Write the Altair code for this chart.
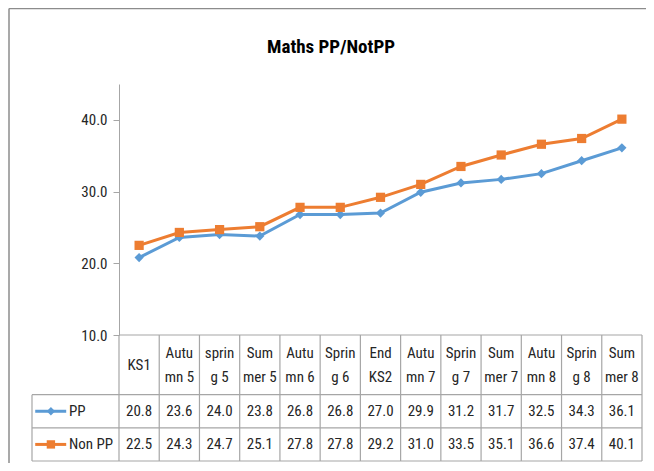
import altair as alt
import pandas as pd

# ---------------- data ----------------
title_text = "Maths PP/NotPP"
categories = ["KS1", "Autumn 5", "spring 5", "Summer 5", "Autumn 6", "Spring 6",
              "End KS2", "Autumn 7", "Spring 7", "Summer 7", "Autumn 8", "Spring 8", "Summer 8"]
header_labels = ["KS1", "Autu\nmn 5", "sprin\ng 5", "Sum\nmer 5", "Autu\nmn 6", "Sprin\ng 6",
                 "End\nKS2", "Autu\nmn 7", "Sprin\ng 7", "Sum\nmer 7", "Autu\nmn 8", "Sprin\ng 8", "Sum\nmer 8"]
pp_values = [20.8, 23.6, 24.0, 23.8, 26.8, 26.8, 27.0, 29.9, 31.2, 31.7, 32.5, 34.3, 36.1]
nonpp_values = [22.5, 24.3, 24.7, 25.1, 27.8, 27.8, 29.2, 31.0, 33.5, 35.1, 36.6, 37.4, 40.1]
series_names = ["PP", "Non PP"]
y_ticks = [10, 20, 30, 40]

# ---------------- layout / style ----------------
series_colors = ["#5B9BD5", "#ED7D31"]
series_shapes = ["diamond", "square"]
W, H = 610, 377           # plot area (table legend column + columns)
PLOT_H = 251              # height of the line part
LEG_COLS = 87 / 40.23     # width of legend column in column units
ROW_EDGES = [0, 1.8, 2.8, 3.8]
FONT = "Liberation Sans Narrow, Roboto Condensed, Open Sans, sans-serif"
GRID = "#A6A6A6"
TXT = "#262626"
LH = 24                   # header line height
n = len(categories)
col_px = W / (n + LEG_COLS)
unit_per_px = (ROW_EDGES[-1] - ROW_EDGES[0]) / (H - PLOT_H)

x_scale = alt.Scale(domain=[-LEG_COLS, n], nice=False, zero=False)
t_scale = alt.Scale(domain=[ROW_EDGES[0], ROW_EDGES[-1]], range=[PLOT_H, H], nice=False, zero=False)
color_scale = alt.Scale(domain=series_names, range=series_colors)
shape_scale = alt.Scale(domain=series_names, range=series_shapes)

# line data
rows = []
for name, vals in zip(series_names, [pp_values, nonpp_values]):
    for i, (c, v) in enumerate(zip(categories, vals)):
        rows.append(dict(series=name, category=c, idx=i, value=v))
line_df = pd.DataFrame(rows)

y_scale = alt.Scale(domain=[10, 45], range=[PLOT_H, 0], nice=False, zero=False)

base = alt.Chart(line_df).transform_calculate(xpos="datum.idx + 0.5")
lines = base.mark_line(strokeWidth=3).encode(
    x=alt.X("xpos:Q", scale=x_scale, axis=None),
    y=alt.Y("value:Q", scale=y_scale,
            axis=alt.Axis(values=y_ticks, format=".1f", title=None, grid=False,
                          offset=-LEG_COLS * col_px, domainColor=GRID, tickColor=GRID,
                          tickSize=6, labelFont=FONT, labelFontSize=15, labelColor=TXT,
                          labelPadding=6)),
    color=alt.Color("series:N", scale=color_scale, legend=None),
    detail="series:N",
)
points = base.mark_point(filled=True, size=85, opacity=1).encode(
    x=alt.X("xpos:Q", scale=x_scale, axis=None),
    y=alt.Y("value:Q", scale=y_scale, axis=None),
    color=alt.Color("series:N", scale=color_scale, legend=None),
    shape=alt.Shape("series:N", scale=shape_scale, legend=None),
)

# table cells
cells = []
for i, lab in enumerate(header_labels):
    cells.append(dict(idx=i, row=0, text=lab))
for r, vals in enumerate([pp_values, nonpp_values], start=1):
    for i, v in enumerate(vals):
        cells.append(dict(idx=i, row=r, text=f"{v:.1f}"))
cell_df = pd.DataFrame(cells)
cell_df["xc"] = cell_df["idx"] + 0.5
cell_df["yc"] = [
    (ROW_EDGES[r] + ROW_EDGES[r + 1]) / 2 - (t.count("\n")) * LH / 2 * unit_per_px
    for r, t in zip(cell_df["row"], cell_df["text"])
]

cell_text = alt.Chart(cell_df).mark_text(
    font=FONT, fontSize=15, color=TXT, align="center", baseline="middle",
    lineBreak="\n", lineHeight=LH
).encode(
    x=alt.X("xc:Q", scale=x_scale, axis=None),
    y=alt.Y("yc:Q", scale=t_scale, axis=None),
    text="text:N",
)

# table grid
segs = []
segs.append(dict(x1=0, x2=n, y1=ROW_EDGES[0], y2=ROW_EDGES[0]))
for e in ROW_EDGES[1:]:
    segs.append(dict(x1=-LEG_COLS, x2=n, y1=e, y2=e))
for i in range(n + 1):
    segs.append(dict(x1=i, x2=i, y1=ROW_EDGES[0], y2=ROW_EDGES[-1]))
segs.append(dict(x1=-LEG_COLS, x2=-LEG_COLS, y1=ROW_EDGES[1], y2=ROW_EDGES[-1]))
seg_df = pd.DataFrame(segs)

grid = alt.Chart(seg_df).mark_rule(color=GRID, strokeWidth=1.2).encode(
    x=alt.X("x1:Q", scale=x_scale, axis=None), x2="x2:Q",
    y=alt.Y("y1:Q", scale=t_scale, axis=None), y2="y2:Q",
)

# legend keys in the table
leg_df = pd.DataFrame(dict(
    series=series_names,
    yc=[(ROW_EDGES[r] + ROW_EDGES[r + 1]) / 2 for r in (1, 2)],
))
kx1, kx2, km, kt = -LEG_COLS + 0.08, -LEG_COLS + 0.85, -LEG_COLS + 0.47, -LEG_COLS + 0.92
leg_base = alt.Chart(leg_df).transform_calculate(a=f"{kx1}", b=f"{kx2}", m=f"{km}", t=f"{kt}")
leg_line = leg_base.mark_rule(strokeWidth=3).encode(
    x=alt.X("a:Q", scale=x_scale, axis=None), x2="b:Q",
    y=alt.Y("yc:Q", scale=t_scale, axis=None),
    color=alt.Color("series:N", scale=color_scale, legend=None),
)
leg_pt = leg_base.mark_point(filled=True, size=70, opacity=1).encode(
    x=alt.X("m:Q", scale=x_scale, axis=None),
    y=alt.Y("yc:Q", scale=t_scale, axis=None),
    color=alt.Color("series:N", scale=color_scale, legend=None),
    shape=alt.Shape("series:N", scale=shape_scale, legend=None),
)
leg_txt = leg_base.mark_text(font=FONT, fontSize=15, color=TXT, align="left", baseline="middle").encode(
    x=alt.X("t:Q", scale=x_scale, axis=None),
    y=alt.Y("yc:Q", scale=t_scale, axis=None),
    text="series:N",
)

# chart-area frame (decorative) and title
frame_df = pd.DataFrame(dict(k=[0]))
frame_left = alt.Chart(frame_df).mark_rule(color="#8C8C8C", strokeWidth=1.5).encode(
    x=alt.value(-23), y=alt.value(-75.5), y2=alt.value(H + 20))
frame_top = alt.Chart(frame_df).mark_rule(color="#8C8C8C", strokeWidth=1.5).encode(
    x=alt.value(-23), x2=alt.value(W + 20), y=alt.value(-75.5))
title = alt.Chart(frame_df).mark_text(
    font=FONT, fontSize=19, fontWeight="bold", color="#000000",
    align="center", baseline="middle"
).encode(x=alt.value(W / 2 - 6), y=alt.value(-37), text=alt.value(title_text))

chart = alt.layer(
    frame_left, frame_top, title, grid, lines, points, cell_text, leg_line, leg_pt, leg_txt
).resolve_scale(y="independent").properties(
    width=W, height=H,
    autosize=alt.AutoSizeParams(type="none"),
    padding={"left": 24, "top": 76, "right": 4, "bottom": 2},
).configure_view(stroke=None)

chart.save("out.html", embed_options={"renderer": "svg", "actions": False})
